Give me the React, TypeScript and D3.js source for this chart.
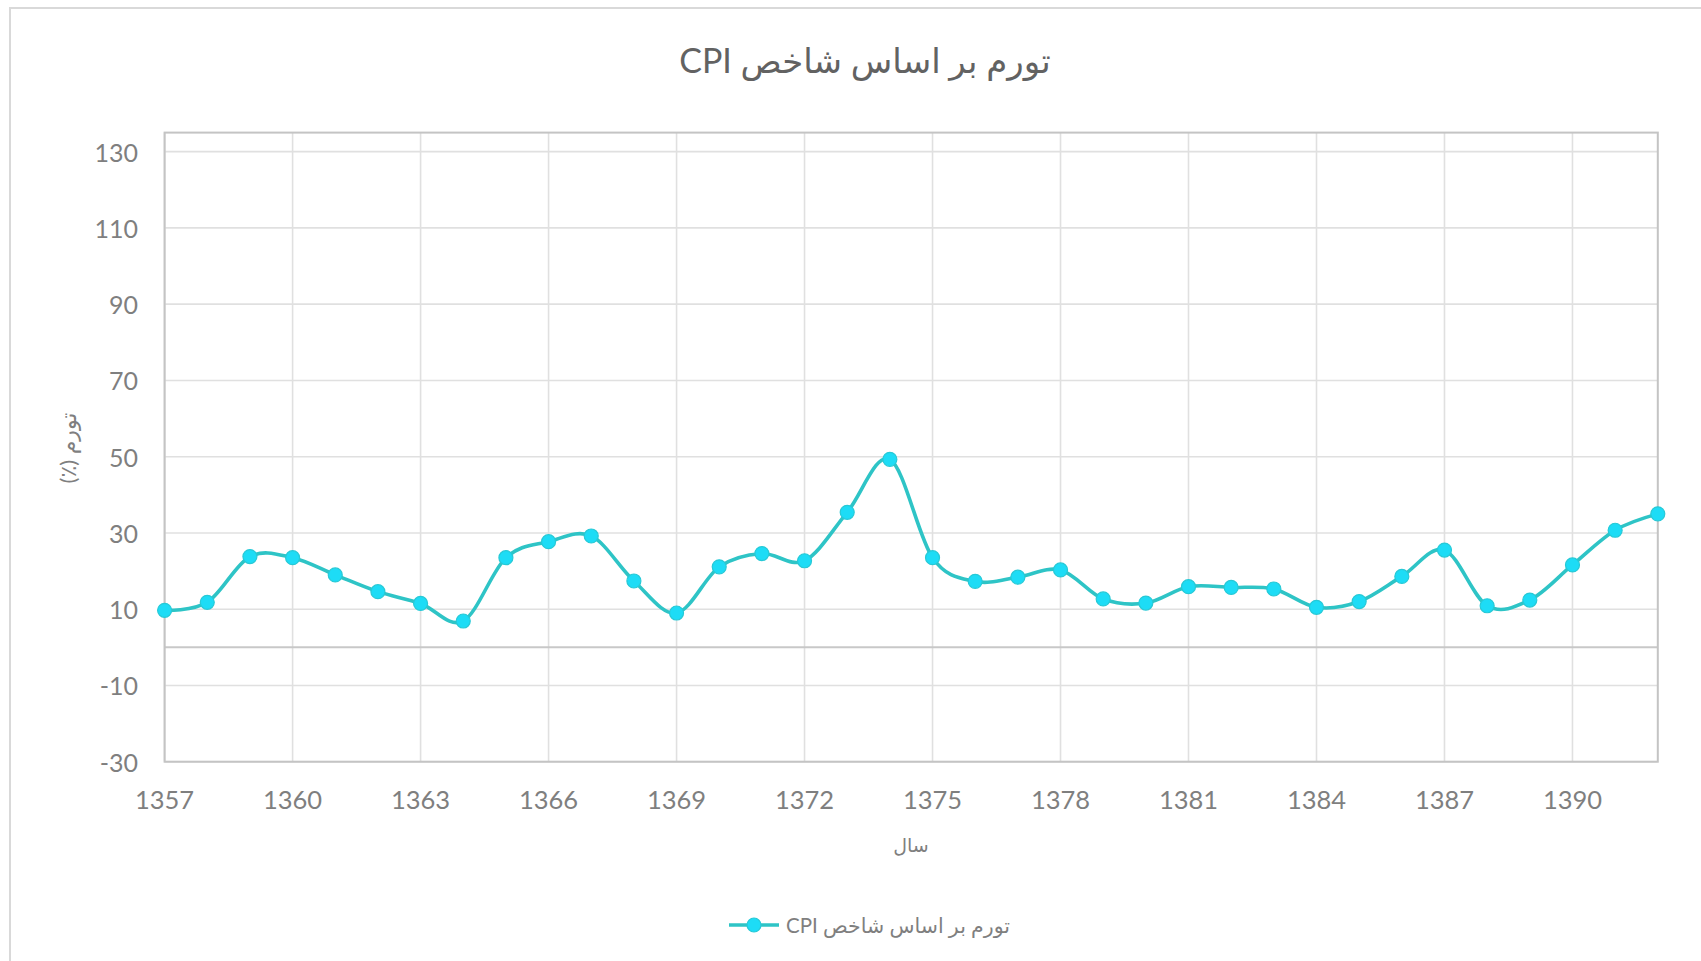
import React from "react";
import * as d3 from "d3";

const years: number[] = [
  1357, 1358, 1359, 1360, 1361, 1362, 1363, 1364, 1365, 1366, 1367, 1368,
  1369, 1370, 1371, 1372, 1373, 1374, 1375, 1376, 1377, 1378, 1379, 1380,
  1381, 1382, 1383, 1384, 1385, 1386, 1387, 1388, 1389, 1390, 1391, 1392,
];
const inflation: number[] = [
  9.7, 11.8, 23.8, 23.5, 19.0, 14.6, 11.5, 6.9, 23.5, 27.7, 29.2, 17.4,
  9.0, 21.1, 24.6, 22.7, 35.4, 49.3, 23.5, 17.3, 18.4, 20.3, 12.7, 11.6,
  15.9, 15.7, 15.3, 10.5, 12.0, 18.6, 25.5, 10.9, 12.4, 21.6, 30.7, 35.0,
];
const xTicks: number[] = [1357, 1360, 1363, 1366, 1369, 1372, 1375, 1378, 1381, 1384, 1387, 1390];
const yTicks: number[] = [-30, -10, 10, 30, 50, 70, 90, 110, 130];

const title = "تورم بر اساس شاخص CPI";
const seriesName = "تورم بر اساس شاخص CPI";
const xTitle = "سال";
const yTitle = "تورم (٪)";

const W = 1701;
const H = 961;
const FONT = "Lato, 'DejaVu Sans', sans-serif";
const TEXT = "#7f7f7f";
const LINE = "#2ec4c6";
const MARK = "#1ddcf6";

export default function App() {
  const x = d3.scaleLinear().domain([1357, 1392]).range([164.6, 1657.8]);
  const y = d3.scaleLinear().domain([-30, 135]).range([761.7, 132.6]);
  const pts: [number, number][] = years.map((yr, i) => [x(yr), y(inflation[i])]);
  const line = d3.line().curve(d3.curveCardinal.tension(0))(pts) || "";
  const [x0, x1] = x.range();
  const [yb, yt] = y.range();

  return (
    <svg width={W} height={H} style={{ position: "absolute", left: 0, top: 0, background: "#fff" }} fontFamily={FONT}>
      <rect x={10} y={8} width={W + 20} height={H + 20} fill="#fff" stroke="#d9d9d9" strokeWidth={2} />
      <text x={865} y={73} textAnchor="middle" direction="rtl" fontSize={34} fill="#626262">{title}</text>

      {yTicks.map((t) => (
        <line key={"gy" + t} x1={x0} x2={x1} y1={y(t)} y2={y(t)} stroke="#e0e0e0" strokeWidth={1.6} />
      ))}
      {xTicks.map((t) => (
        <line key={"gx" + t} x1={x(t)} x2={x(t)} y1={yt} y2={yb} stroke="#e0e0e0" strokeWidth={1.6} />
      ))}
      <line x1={x0} x2={x1} y1={y(0)} y2={y(0)} stroke="#c8c8c8" strokeWidth={2} />
      <rect x={x0} y={yt} width={x1 - x0} height={yb - yt} fill="none" stroke="#c4c4c4" strokeWidth={2} />

      {yTicks.map((t) => (
        <text key={"ty" + t} x={138} y={y(t)} textAnchor="end" dominantBaseline="central" fontSize={25} fill={TEXT}>{t}</text>
      ))}
      {xTicks.map((t) => (
        <text key={"tx" + t} x={x(t)} y={809} textAnchor="middle" fontSize={25.5} fill={TEXT}>{t}</text>
      ))}

      <text x={911} y={844} textAnchor="middle" dominantBaseline="central" fontSize={19} fill={TEXT} direction="rtl">{xTitle}</text>
      <text transform={`translate(67,448) rotate(-90)`} textAnchor="middle" dominantBaseline="central" fontSize={22} fill={TEXT} direction="rtl">{yTitle}</text>

      <path d={line} fill="none" stroke={LINE} strokeWidth={3.6} />
      {pts.map(([px, py], i) => (
        <circle key={"m" + i} cx={px} cy={py} r={7} fill={MARK} stroke="#27c9d6" strokeWidth={1.2} />
      ))}

      <line x1={729} x2={779} y1={925} y2={925} stroke={LINE} strokeWidth={3.6} />
      <circle cx={754} cy={925} r={7} fill={MARK} stroke="#27c9d6" strokeWidth={1.2} />
      <text x={898} y={925} textAnchor="middle" dominantBaseline="central" direction="rtl" fontSize={20.5} fill={TEXT}>{seriesName}</text>
    </svg>
  );
}
